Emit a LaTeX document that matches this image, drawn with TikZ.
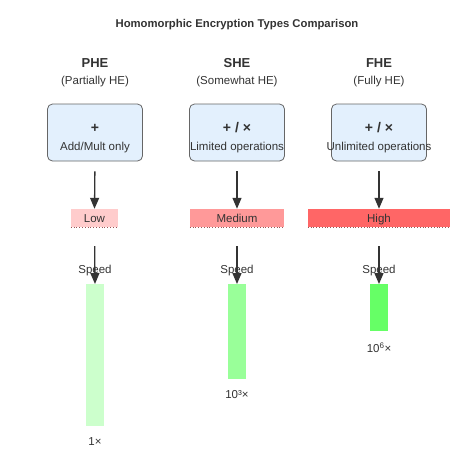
\documentclass[tikz,border=0pt]{standalone}
\usepackage{fontspec}
\setmainfont{Liberation Sans}
\usetikzlibrary{arrows.meta}
\definecolor{textgray}{HTML}{333333}
\definecolor{boxblue}{HTML}{E3F0FD}
\definecolor{boxgray}{HTML}{666666}
\definecolor{costlow}{HTML}{FFCCCC}
\definecolor{costmed}{HTML}{FF9999}
\definecolor{costhigh}{HTML}{FF6666}
\definecolor{speedlow}{HTML}{CCFFCC}
\definecolor{speedmed}{HTML}{99FF99}
\definecolor{speedhigh}{HTML}{66FF66}
\definecolor{dotred}{HTML}{995555}
\begin{document}
\begin{tikzpicture}[x=1pt,y=-1pt]
    \tikzstyle{every node}=[font=\fontsize{11.5}{13}\selectfont, text=textgray, inner sep=0pt]
    \tikzstyle{opbox}=[draw=boxgray, fill=boxblue, rounded corners=5pt, line width=0.8pt, minimum width=95pt, minimum height=57pt]
    \tikzstyle{costbar}=[minimum height=18pt, text depth=0pt]
    \tikzstyle{speedbar}=[minimum width=18pt, anchor=north]
    \tikzstyle{edge}=[draw=textgray, line width=1.3pt, -{Triangle[length=11pt,width=9pt]}]
    \tikzstyle{dotline}=[draw=dotred, line width=0.8pt, dotted]

    \useasboundingbox (0,0) rectangle (474,474);

    \node[font=\fontsize{11.3}{13}\selectfont\bfseries] (title) at (237,25) {Homomorphic Encryption Types Comparison};

    % PHE
    \node[font=\fontsize{13}{15}\selectfont\bfseries] (pheName) at (95,63) {PHE};
    \node (pheSub) at (95,82) {(Partially HE)};
    \node[opbox] (pheBox) at (95,132.5) {};
    \node[font=\fontsize{14}{16}\selectfont\bfseries] (pheOp) at (95,128) {+};
    \node (pheOpTxt) at (95,148) {Add/Mult only};
    \node[costbar, fill=costlow, minimum width=47pt] (pheCost) at (94.5,218) {\raisebox{-1pt}{Low}};
    \node (pheSpeed) at (95,271) {Speed};
    \node[speedbar, fill=speedlow, minimum height=142pt] (pheBar) at (95,284) {};
    \node (pheFactor) at (95,442) {1×};

    % SHE
    \node[font=\fontsize{13}{15}\selectfont\bfseries] (sheName) at (237,63) {SHE};
    \node (sheSub) at (237,82) {(Somewhat HE)};
    \node[opbox] (sheBox) at (237,132.5) {};
    \node[font=\fontsize{14}{16}\selectfont\bfseries] (sheOp) at (237,128) {+ / ×};
    \node (sheOpTxt) at (237,148) {Limited operations};
    \node[costbar, fill=costmed, minimum width=94pt] (sheCost) at (237,218) {\raisebox{-1pt}{Medium}};
    \node (sheSpeed) at (237,271) {Speed};
    \node[speedbar, fill=speedmed, minimum height=95pt] (sheBar) at (237,284) {};
    \node (sheFactor) at (237,395) {10³×};

    % FHE
    \node[font=\fontsize{13}{15}\selectfont\bfseries] (fheName) at (379,63) {FHE};
    \node (fheSub) at (379,82) {(Fully HE)};
    \node[opbox] (fheBox) at (379,132.5) {};
    \node[font=\fontsize{14}{16}\selectfont\bfseries] (fheOp) at (379,128) {+ / ×};
    \node (fheOpTxt) at (379,148) {Unlimited operations};
    \node[costbar, fill=costhigh, minimum width=142pt] (fheCost) at (379,218) {\raisebox{-1pt}{High}};
    \node (fheSpeed) at (379,271) {Speed};
    \node[speedbar, fill=speedhigh, minimum height=47pt] (fheBar) at (379,284) {};
    \node (fheFactor) at (379,348) {10\textsuperscript{6}×};

    \draw[dotline] (pheCost.south west) -- (pheCost.south east);
    \draw[dotline] (sheCost.south west) -- (sheCost.south east);
    \draw[dotline] (fheCost.south west) -- (fheCost.south east);

    \draw[edge, shorten <=10pt] (pheBox.south) -- (pheCost.north);
    \draw[edge, shorten <=10pt] (sheBox.south) -- (sheCost.north);
    \draw[edge, shorten <=10pt] (fheBox.south) -- (fheCost.north);

    \draw[edge, shorten <=19pt] (pheCost.south) -- (pheBar.north);
    \draw[edge, shorten <=19pt] (sheCost.south) -- (sheBar.north);
    \draw[edge, shorten <=19pt] (fheCost.south) -- (fheBar.north);
\end{tikzpicture}
\end{document}
